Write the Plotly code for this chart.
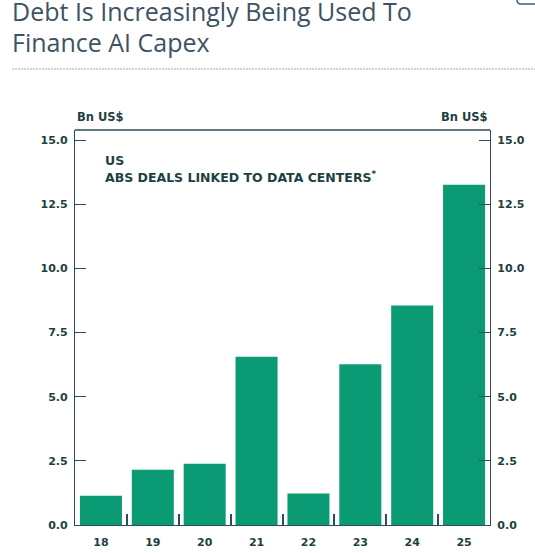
import plotly.graph_objects as go

categories = ["18", "19", "20", "21", "22", "23", "24", "25"]
values = [1.14, 2.15, 2.39, 6.56, 1.23, 6.27, 8.56, 13.27]
tick_vals = [0, 2.5, 5, 7.5, 10, 12.5, 15]
tick_text = ["0.0", "2.5", "5.0", "7.5", "10.0", "12.5", "15.0"]

W, H = 535, 553
L, R, T, B = 75, 45, 130, 28
PW, PH = W - L - R, H - T - B
BAR = "#0b9b74"
AX = "#2f4d56"
TXT = "#1e3f42"
FONT = "DejaVu Sans"


def px(x):
    return (x - L) / PW


def py(y):
    return 1 - (y - T) / PH


fig = go.Figure()
fig.add_trace(go.Bar(x=categories, y=values, marker=dict(color=BAR, line=dict(width=0)),
                     hoverinfo="skip", showlegend=False))
fig.add_trace(go.Scatter(x=categories, y=values, yaxis="y2", mode="markers",
                         marker=dict(opacity=0), hoverinfo="skip", showlegend=False))

yax = dict(range=[0, 15.4], tickvals=tick_vals, ticktext=tick_text, ticks="inside",
           ticklen=11, tickcolor=AX, tickwidth=1.3, showgrid=False, zeroline=False,
           showline=True, linecolor=AX, linewidth=1.3, ticklabelstandoff=4, automargin=False,
           tickfont=dict(family=FONT, size=11, color=TXT, weight="bold"), fixedrange=True)

icon_path = "M {x0},{y0} L {x0},{y1} Q {x0},{y2} {x3},{y2} L {x4},{y2}".format(
    x0=px(517), y0=py(-5), y1=py(0), y2=py(4), x3=px(521), x4=px(540))

lab = dict(xref="paper", yref="paper", showarrow=False, align="left")

fig.update_layout(
    width=W, height=H,
    margin=dict(l=L, r=R, t=T, b=B, pad=0, autoexpand=False),
    paper_bgcolor="white", plot_bgcolor="white",
    bargap=0.19,
    xaxis=dict(type="category", ticks="inside", tickson="boundaries", ticklen=11,
               tickcolor=AX, tickwidth=1.8, showline=True, linecolor=AX, linewidth=1.3,
               showgrid=False, ticklabelstandoff=7, fixedrange=True, automargin=False,
               tickfont=dict(family=FONT, size=11, color=TXT, weight="bold")),
    yaxis=dict(**yax, side="left"),
    yaxis2=dict(**yax, side="right", overlaying="y"),
    shapes=[
        dict(type="line", xref="paper", yref="paper", x0=0, x1=1, y0=1, y1=1,
             line=dict(color=AX, width=1.3)),
        dict(type="line", xref="paper", yref="paper", x0=px(12), x1=px(535),
             y0=py(69), y1=py(69), line=dict(color="#9eabb7", width=1.2, dash="2px,1px")),
        dict(type="path", xref="paper", yref="paper", path=icon_path,
             line=dict(color="#3f607c", width=1.5)),
    ],
    annotations=[
        dict(**lab, text="Debt Is Increasingly Being Used To", x=px(10), y=py(11.5),
             xanchor="left", yanchor="middle",
             font=dict(family="Open Sans", size=25, color="#3e5263")),
        dict(**lab, text="Finance AI Capex", x=px(10), y=py(42),
             xanchor="left", yanchor="middle",
             font=dict(family="Open Sans", size=25, color="#3e5263")),
        dict(**lab, text="Bn US$", x=0, y=py(117), xanchor="left", yanchor="middle",
             font=dict(family=FONT, size=11.5, color=TXT, weight="bold")),
        dict(**lab, text="Bn US$", x=1, y=py(117), xanchor="right", yanchor="middle",
             font=dict(family=FONT, size=11.5, color=TXT, weight="bold")),
        dict(**lab, text="US", x=px(103), y=py(160.5), xanchor="left", yanchor="middle",
             font=dict(family=FONT, size=12.5, color=TXT, weight="bold")),
        dict(**lab, text="ABS DEALS LINKED TO DATA CENTERS<sup>*</sup>", x=px(103), y=py(176.5),
             xanchor="left", yanchor="middle",
             font=dict(family=FONT, size=12.5, color=TXT, weight="bold")),
    ],
)

fig.write_html("out.html", config={"displayModeBar": False},
               post_script="document.body.style.margin='0';")
